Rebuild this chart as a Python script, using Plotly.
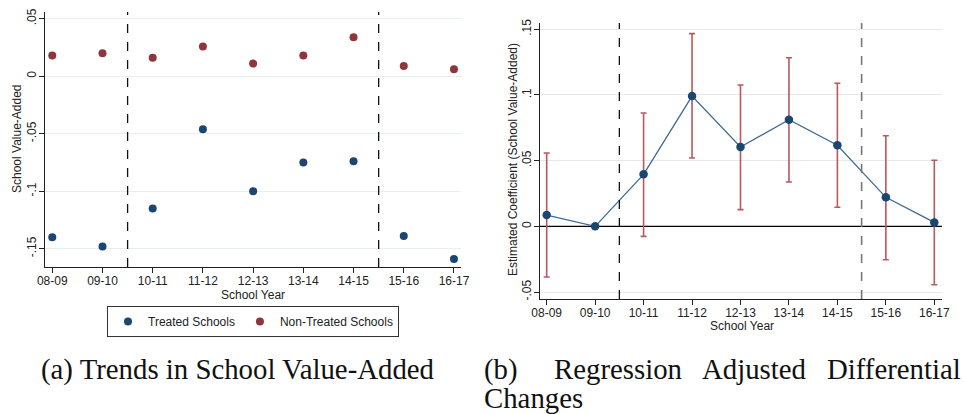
import plotly.graph_objects as go

# ---------------- data ----------------
years = ["08-09", "09-10", "10-11", "11-12", "12-13", "13-14", "14-15", "15-16", "16-17"]
treated = [-0.140, -0.148, -0.115, -0.046, -0.100, -0.075, -0.074, -0.139, -0.159]
non_treated = [0.018, 0.020, 0.016, 0.026, 0.011, 0.018, 0.034, 0.009, 0.006]

coef = [0.0086, 0.0, 0.0396, 0.0992, 0.0604, 0.0812, 0.0617, 0.0221, 0.0030]
ci_hi = [0.0558, None, 0.0863, 0.1467, 0.1076, 0.1284, 0.1089, 0.0690, 0.0503]
ci_lo = [-0.0386, None, -0.0076, 0.0520, 0.0127, 0.0338, 0.0145, -0.0254, -0.0444]

breaks = [1.5, 6.5]

left_ticks = [0.05, 0, -0.05, -0.1, -0.15]
left_ticktext = [".05", "0", "-.05", "-.1", "-.15"]
right_ticks = [0.15, 0.1, 0.05, 0, -0.05]
right_ticktext = [".15", ".1", ".05", "0", "-.05"]

NAVY = "#1a476f"
MAROON = "#90353b"
LINE = "#3d6a94"
ERR = "#b8585f"

W, H = 964, 414
x_idx = list(range(len(years)))

fig = go.Figure()

# left panel
fig.add_trace(go.Scatter(x=x_idx, y=treated, mode="markers", name="Treated Schools",
                         marker=dict(color=NAVY, size=8), xaxis="x", yaxis="y"))
fig.add_trace(go.Scatter(x=x_idx, y=non_treated, mode="markers", name="Non-Treated Schools",
                         marker=dict(color=MAROON, size=8), xaxis="x", yaxis="y"))

# right panel: zero reference line drawn as a trace so it sits above the grid
fig.add_trace(go.Scatter(x=[-1, len(years)], y=[0, 0], mode="lines",
                         line=dict(color="#000", width=1.2), showlegend=False,
                         xaxis="x2", yaxis="y2", hoverinfo="skip"))
has_ci = [h is not None for h in ci_hi]
fig.add_trace(go.Scatter(x=[i for i, k in zip(x_idx, has_ci) if k],
                         y=[c for c, k in zip(coef, has_ci) if k],
                         mode="markers", marker=dict(size=0.1, color="rgba(0,0,0,0)"),
                         error_y=dict(type="data", symmetric=False,
                                      array=[h - c for h, c, k in zip(ci_hi, coef, has_ci) if k],
                                      arrayminus=[c - l for l, c, k in zip(ci_lo, coef, has_ci) if k],
                                      color=ERR, thickness=1.6, width=3),
                         showlegend=False, xaxis="x2", yaxis="y2", hoverinfo="skip"))
fig.add_trace(go.Scatter(x=x_idx, y=coef, mode="lines+markers",
                         line=dict(color=LINE, width=1.3),
                         marker=dict(color=NAVY, size=8.5),
                         showlegend=False, xaxis="x2", yaxis="y2"))

tickfont = dict(family="Liberation Sans, Arial, sans-serif", size=12, color="#222")

common_x = dict(tickmode="array", tickvals=x_idx, ticktext=years, showgrid=False,
                zeroline=False, showline=True, linecolor="#222", linewidth=1.2,
                ticks="outside", ticklen=5, tickcolor="#222", tickfont=tickfont,
                automargin=False, ticklabelstandoff=-3)
common_y = dict(tickmode="array", showgrid=True, zeroline=False, showline=True,
                linecolor="#222", linewidth=1.2, ticks="outside", ticklen=5,
                tickcolor="#222", tickangle=-90, tickfont=tickfont, automargin=False,
                ticklabelstandoff=-2)

fig.update_layout(
    width=W, height=H,
    margin=dict(l=0, r=0, t=0, b=0, autoexpand=False),
    paper_bgcolor="white", plot_bgcolor="white",
    font=tickfont,
    xaxis=dict(domain=[45 / W, 461 / W], range=[-0.145, 8.14], anchor="y", **common_x),
    yaxis=dict(domain=[1 - 267 / H, 1 - 12 / H], range=[-0.1659, 0.0559], anchor="x",
               tickvals=left_ticks, ticktext=left_ticktext, gridcolor="#e6eef0", **common_y),
    xaxis2=dict(domain=[540 / W, 942 / W], range=[-0.138, 8.159], anchor="y2", **common_x),
    yaxis2=dict(domain=[1 - 299 / H, 1 - 23 / H], range=[-0.0553, 0.1548], anchor="x2",
                tickvals=right_ticks, ticktext=right_ticktext, gridcolor="#e8e8e8", **common_y),
    legend=dict(orientation="h", x=253 / W, xanchor="center", y=1 - 306 / H, yanchor="top",
                bordercolor="#333", borderwidth=1, bgcolor="white",
                font=dict(family="Liberation Sans, Arial, sans-serif", size=12, color="#222"),
                itemwidth=30, tracegroupgap=0),
    showlegend=True,
)

# axis titles
for text, x, y, ang in [("School Year", 253, 295, 0),
                        ("School Year", 742, 326, 0),
                        ("School Value-Added", 17, 139, -90),
                        ("Estimated Coefficient (School Value-Added)", 513, 160, -90)]:
    fig.add_annotation(text=text, xref="paper", yref="paper", x=x / W, y=1 - y / H,
                       xanchor="center", yanchor="middle", textangle=ang,
                       showarrow=False, font=tickfont)

# reference lines (policy period boundaries)
for b in breaks:
    fig.add_shape(type="line", xref="x", yref="y domain", x0=b, x1=b, y0=0, y1=1,
                  line=dict(color="#111", width=1.3, dash="dash"))
fig.add_shape(type="line", xref="x2", yref="y2 domain", x0=breaks[0], x1=breaks[0], y0=0, y1=1,
              line=dict(color="#111", width=1.3, dash="dash"))
fig.add_shape(type="line", xref="x2", yref="y2 domain", x0=breaks[1], x1=breaks[1], y0=0, y1=1,
              line=dict(color="#777", width=1.6, dash="dash"))

# captions
cap_font = dict(family="Liberation Serif, Times New Roman, serif", size=28.8, color="#111")
fig.add_annotation(text="(a) Trends in School Value-Added", xref="paper", yref="paper",
                   x=39 / W, xanchor="left", y=1 - 369 / H, yanchor="middle",
                   showarrow=False, font=cap_font)
for word, xpos, anchor in [("(b)", 482, "left"), ("Regression", 552, "left"),
                           ("Adjusted", 700, "left"), ("Differential", 963, "right")]:
    fig.add_annotation(text=word, xref="paper", yref="paper", x=xpos / W, xanchor=anchor,
                       y=1 - 369 / H, yanchor="middle", showarrow=False, font=cap_font)
fig.add_annotation(text="Changes", xref="paper", yref="paper", x=482 / W, xanchor="left",
                   y=1 - 398 / H, yanchor="middle", showarrow=False, font=cap_font)

fig.write_html("out.html", config={"displayModeBar": False},
               post_script="document.body.style.margin='0';")
